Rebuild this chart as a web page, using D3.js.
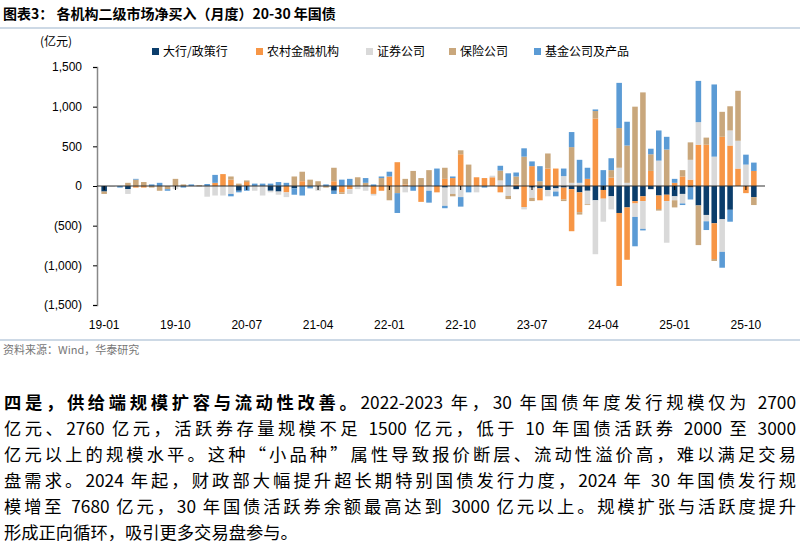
<!DOCTYPE html><html><head><meta charset="utf-8"><script src="https://cdn.jsdelivr.net/npm/d3@7"></script>
<style>body{margin:0;background:#fff;font-family:"Noto Sans CJK SC","Noto Sans",sans-serif;}
.p{position:absolute;left:4px;width:792px;font-size:17.3px;line-height:26px;text-align:justify;text-align-last:justify;white-space:nowrap;color:#000}
</style></head><body><svg id="c" width="800" height="370" style="position:absolute;left:0;top:0"></svg>
<div id="txt"></div>
<script>
const seriesNames=["大行/政策行","农村金融机构","证券公司","保险公司","基金公司及产品"];
const colors=["#0b3d6b","#f79646","#d9d9d9","#c9a77c","#5b9bd5"];
const yTicks=[1500,1000,500,0,-500,-1000,-1500];
const xTickLabels=["19-01","19-10","20-07","21-04","22-01","22-10","23-07","24-04","25-01","25-10"];
const months=d3.range(83).map(i=>{const y=19+Math.floor(i/12),m=i%12+1;return y+"-"+String(m).padStart(2,"0");});
const bank=[-70,0,0,-40,0,0,0,0,0,0,0,0,0,0,0,0,0,-60,0,0,0,-60,-70,0,-30,0,0,0,0,-60,0,0,0,0,0,0,0,0,0,0,0,0,0,-20,0,0,0,0,0,0,0,0,-40,0,-20,-30,-50,-30,-20,-40,-80,-60,-180,-50,-130,-340,-270,-190,-130,-40,-120,-110,-130,-100,-20,-245,-365,-470,-420,-300,0,0,-140];
const rural=[0,0,0,0,-20,-20,0,0,0,0,0,0,0,0,40,150,80,0,50,0,0,0,0,-80,0,60,0,0,0,60,-80,-40,0,0,-100,-60,120,300,20,0,-200,0,-80,90,100,400,0,110,100,110,-80,0,20,-265,250,-150,220,220,-150,-530,-250,90,850,-110,105,-920,-660,-30,-60,190,-170,-80,40,120,80,520,520,-450,620,510,220,-90,190];
const broker=[0,-10,0,-60,0,0,0,0,0,-40,0,0,-10,-135,-120,-120,-100,0,0,-60,-120,-20,-40,-60,0,0,0,-60,0,0,0,-60,-40,-60,-20,0,0,0,-80,0,0,-60,0,-230,-100,-140,0,-80,0,20,70,-125,0,-30,-130,0,-80,-40,125,40,40,-170,-680,-290,-165,230,40,-170,-350,0,320,-525,-50,-120,250,285,-80,370,-410,190,350,270,0];
const insur=[-30,0,0,40,80,50,-20,-60,-40,90,20,0,10,0,0,0,40,30,20,0,0,0,0,0,120,120,80,60,-20,170,-20,10,110,40,0,100,-180,-90,70,190,100,200,0,140,-30,50,270,0,0,0,125,-40,100,370,-40,60,190,0,-20,450,-30,-10,95,0,95,500,470,1000,1180,210,-20,460,-90,80,220,-500,90,-25,315,305,630,0,-100];
const fund=[0,0,-20,0,10,0,20,40,-20,0,-20,20,0,25,100,0,-30,-20,-60,30,30,30,50,40,-80,-120,-30,0,20,-40,80,80,0,60,20,20,60,-250,0,-60,0,-150,220,-30,20,-120,-80,0,-20,0,60,160,50,105,60,190,0,-60,95,190,290,140,20,200,150,570,300,-370,-20,70,380,160,50,-20,-150,520,-110,910,-200,-150,0,125,105];
const data=[bank,rural,broker,insur,fund];
const svg=d3.select("#c");
svg.append("text").attr("x",3).attr("y",19).attr("font-size",14).attr("font-weight","bold").text("图表3：  各机构二级市场净买入（月度）20-30 年国债");
svg.append("line").attr("x1",0).attr("x2",800).attr("y1",28).attr("y2",28).attr("stroke","#9bb3cc").attr("stroke-width",1);
const x=d3.scaleBand().domain(months).range([99,759]).padding(0.3);
const y=d3.scaleLinear().domain([-1500,1500]).range([305,67]);
// stacked diverging
months.forEach((m,i)=>{let pos=0,neg=0;data.forEach((s,k)=>{const v=s[i];if(!v)return;let y0,y1;if(v>0){y0=pos;y1=pos+v;pos=y1}else{y0=neg;y1=neg+v;neg=y1}
svg.append("rect").attr("x",x(m)).attr("width",x.bandwidth()).attr("y",y(Math.max(y0,y1))).attr("height",Math.abs(y(y0)-y(y1))).attr("fill",colors[k]);});});
const ya=svg.append("g").attr("transform","translate(97,0)").call(d3.axisLeft(y).tickValues(yTicks).tickSize(4).tickFormat(v=>v<0?"("+d3.format(",")(-v)+")":d3.format(",")(v)));
ya.selectAll("text").attr("font-size",12).attr("font-family","Liberation Sans,Arial").attr("fill","#000").attr("dx",-8);
ya.select(".domain").attr("stroke","#888").attr("stroke-width",1.5);
svg.append("line").attr("x1",97).attr("x2",765).attr("y1",y(0)).attr("y2",y(0)).attr("stroke","#333").attr("stroke-width",1.2);
xTickLabels.forEach(l=>{const cx=x(l)+x.bandwidth()/2;svg.append("line").attr("x1",cx).attr("x2",cx).attr("y1",y(0)).attr("y2",y(0)+4).attr("stroke","#000");
svg.append("text").attr("x",cx).attr("y",329).attr("text-anchor","middle").attr("font-size",12).attr("font-family","Liberation Sans,Arial").text(l);});
svg.append("text").attr("x",40).attr("y",46).attr("font-size",12).text("(亿元)");
const lx=[152,256,366,449,534];
seriesNames.forEach((n,k)=>{svg.append("rect").attr("x",lx[k]).attr("y",48).attr("width",7).attr("height",7).attr("fill",colors[k]);
svg.append("text").attr("x",lx[k]+11).attr("y",56).attr("font-size",12).text(n);});
svg.append("line").attr("x1",0).attr("x2",800).attr("y1",340).attr("y2",340).attr("stroke","#9bb3cc");
svg.append("text").attr("x",3).attr("y",354).attr("font-size",11).attr("fill","#777").text("资料来源：Wind，华泰研究");
const lines=["<b>四是，供给端规模扩容与流动性改善。</b>2022-2023 年，30 年国债年度发行规模仅为 2700","亿元、2760 亿元，活跃券存量规模不足 1500 亿元，低于 10 年国债活跃券 2000 至 3000","亿元以上的规模水平。这种“小品种”属性导致报价断层、流动性溢价高，难以满足交易","盘需求。2024 年起，财政部大幅提升超长期特别国债发行力度，2024 年 30 年国债发行规","模增至 7680 亿元，30 年国债活跃券余额最高达到 3000 亿元以上。规模扩张与活跃度提升","形成正向循环，吸引更多交易盘参与。"];
d3.select("#txt").selectAll("div").data(lines).join("div").attr("class","p").style("top",(d,i)=>(389+i*26)+"px").style("text-align-last",(d,i)=>i==5?"left":"justify").html(d=>d);
</script></body></html>
